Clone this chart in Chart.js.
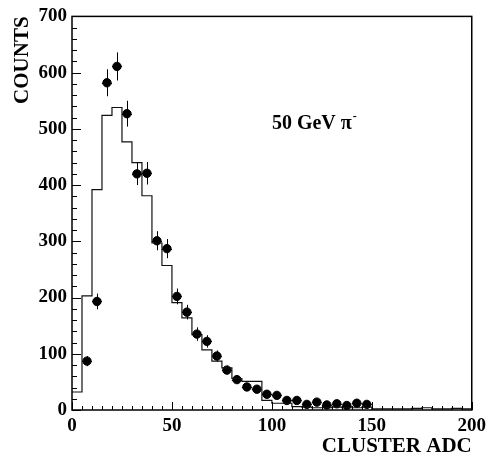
<!DOCTYPE html>
<html>
<head>
<meta charset="utf-8">
<script src="https://cdn.jsdelivr.net/npm/chart.js@4.4.1/dist/chart.umd.min.js"></script>
<style>
  html, body { margin: 0; padding: 0; background: #fff; }
  #wrap { width: 491px; height: 461px; }
</style>
</head>
<body>
<div id="wrap"><canvas id="chartAdc" width="491" height="461"></canvas></div>
<script>
// simulation histogram, 5 ADC wide bins from 0 to 200
const BIN_WIDTH = 5;
const simCounts = [
  32, 203, 392, 524, 538, 477, 440, 381, 297, 257,
  191, 164, 134, 107, 87, 75, 56, 51, 51, 17,
  12, 12, 6, 5, 4, 4, 5, 4, 4, 5,
  2, 2, 2, 2, 3, 4, 2, 2, 3, 2
];

// measured points at bin centres
const dataAdc = [
  7.5, 12.5, 17.5, 22.5, 27.5, 32.5, 37.5, 42.5, 47.5, 52.5,
  57.5, 62.5, 67.5, 72.5, 77.5, 82.5, 87.5, 92.5, 97.5, 102.5,
  107.5, 112.5, 117.5, 122.5, 127.5, 132.5, 137.5, 142.5, 147.5
];
const dataCounts = [
  87, 193, 582, 611, 527, 420, 421, 301, 287, 202,
  174, 135, 122, 96, 71, 54, 41, 37, 28, 26,
  17, 17, 10, 14, 9, 11, 8, 12, 10
];
const dataErrors = [
  9, 14, 24, 25, 23, 20, 20, 17, 17, 14,
  13, 12, 11, 10, 8, 7, 6, 6, 5, 5,
  4, 4, 3, 4, 3, 3, 3, 3, 3
];

const xTicks = [0, 50, 100, 150, 200];
const yTicks = [0, 100, 200, 300, 400, 500, 600, 700];

const FONT = "'Liberation Serif', 'Times New Roman', serif";

// step line points: each bin's lower edge, plus closing edge at 200
const histPoints = simCounts.map((c, i) => ({ x: i * BIN_WIDTH, y: c }));
histPoints.push({ x: simCounts.length * BIN_WIDTH, y: simCounts[simCounts.length - 1] });

const dataPoints = dataAdc.map((x, i) => ({ x: x, y: dataCounts[i], err: dataErrors[i] }));

// frame with inward ticks, like the original plot
const framePlugin = {
  id: 'frame',
  afterDraw(chart) {
    const { ctx, chartArea: a, scales } = chart;
    ctx.save();
    ctx.strokeStyle = '#000';
    ctx.lineWidth = 1.5;
    ctx.strokeRect(a.left, a.top, a.right - a.left, a.bottom - a.top);
    ctx.lineWidth = 1;
    ctx.beginPath();
    for (let v = 0; v <= 700; v += 20) {
      const y = Math.round(scales.y.getPixelForValue(v)) + 0.5;
      const len = v % 100 === 0 ? 9 : 5;
      ctx.moveTo(a.left, y);
      ctx.lineTo(a.left + len, y);
    }
    for (let v = 0; v <= 200; v += 5) {
      const x = Math.round(scales.x.getPixelForValue(v)) + 0.5;
      const len = v % 50 === 0 ? 8 : 4;
      ctx.moveTo(x, a.bottom);
      ctx.lineTo(x, a.bottom - len);
    }
    ctx.stroke();

    // label
    const lx = scales.x.getPixelForValue(100);
    const ly = scales.y.getPixelForValue(499);
    ctx.fillStyle = '#000';
    ctx.textBaseline = 'alphabetic';
    ctx.textAlign = 'left';
    ctx.font = 'bold 20px ' + FONT;
    const txt = '50 GeV \u03C0';
    ctx.fillText(txt, lx, ly);
    const w = ctx.measureText(txt).width;
    ctx.font = 'bold 12px ' + FONT;
    ctx.fillText('-', w + lx + 1, ly - 9);
    ctx.restore();
  }
};

// vertical error bars and bin-width bars on the data points
const errorBarPlugin = {
  id: 'errorBars',
  afterDatasetsDraw(chart) {
    const { ctx, scales } = chart;
    const meta = chart.getDatasetMeta(1);
    ctx.save();
    ctx.strokeStyle = '#000';
    ctx.lineWidth = 1;
    ctx.beginPath();
    meta.data.forEach((pt, i) => {
      const d = dataPoints[i];
      const x = Math.round(pt.x) + 0.5;
      const yHi = scales.y.getPixelForValue(d.y + d.err);
      const yLo = scales.y.getPixelForValue(Math.max(0, d.y - d.err));
      ctx.moveTo(x, yHi);
      ctx.lineTo(x, yLo);
      const xl = scales.x.getPixelForValue(d.x - BIN_WIDTH / 2);
      const xr = scales.x.getPixelForValue(d.x + BIN_WIDTH / 2);
      const y = Math.round(pt.y) + 0.5;
      ctx.moveTo(xl, y);
      ctx.lineTo(xr, y);
    });
    ctx.stroke();
    ctx.restore();
  }
};

new Chart(document.getElementById('chartAdc'), {
  type: 'scatter',
  data: {
    datasets: [
      {
        type: 'line',
        label: 'Simulation',
        data: histPoints,
        stepped: 'before',
        borderColor: '#111',
        borderWidth: 1.2,
        pointRadius: 0,
        fill: false
      },
      {
        type: 'scatter',
        label: 'Data',
        data: dataPoints,
        backgroundColor: '#000',
        borderColor: '#000',
        pointRadius: 4.2,
        pointHoverRadius: 4.2
      }
    ]
  },
  options: {
    responsive: false,
    animation: false,
    events: [],
    layout: { padding: { top: 14, right: 16, left: 0, bottom: 0 } },
    plugins: {
      legend: { display: false },
      tooltip: { enabled: false }
    },
    scales: {
      x: {
        type: 'linear',
        min: 0,
        max: 200,
        afterFit(scale) { scale.height = 51; },
        afterBuildTicks(scale) { scale.ticks = xTicks.map(v => ({ value: v })); },
        grid: { display: false, drawTicks: false },
        border: { display: false },
        ticks: {
          color: '#000',
          padding: 5,
          maxRotation: 0,
          font: { family: FONT, size: 19, weight: 'bold' }
        },
        title: {
          display: true,
          text: 'CLUSTER ADC',
          align: 'end',
          color: '#000',
          padding: { top: 0, bottom: 2 },
          font: { family: FONT, size: 21, weight: 'bold' }
        }
      },
      y: {
        type: 'linear',
        min: 0,
        max: 700,
        afterFit(scale) { scale.width = 72; },
        afterBuildTicks(scale) { scale.ticks = yTicks.map(v => ({ value: v })); },
        grid: { display: false, drawTicks: false },
        border: { display: false },
        ticks: {
          color: '#000',
          padding: 5,
          font: { family: FONT, size: 19, weight: 'bold' }
        },
        title: {
          display: true,
          text: 'COUNTS',
          align: 'end',
          color: '#000',
          padding: { top: 10, bottom: 0 },
          font: { family: FONT, size: 21, weight: 'bold' }
        }
      }
    }
  },
  plugins: [framePlugin, errorBarPlugin]
});
</script>
</body>
</html>
